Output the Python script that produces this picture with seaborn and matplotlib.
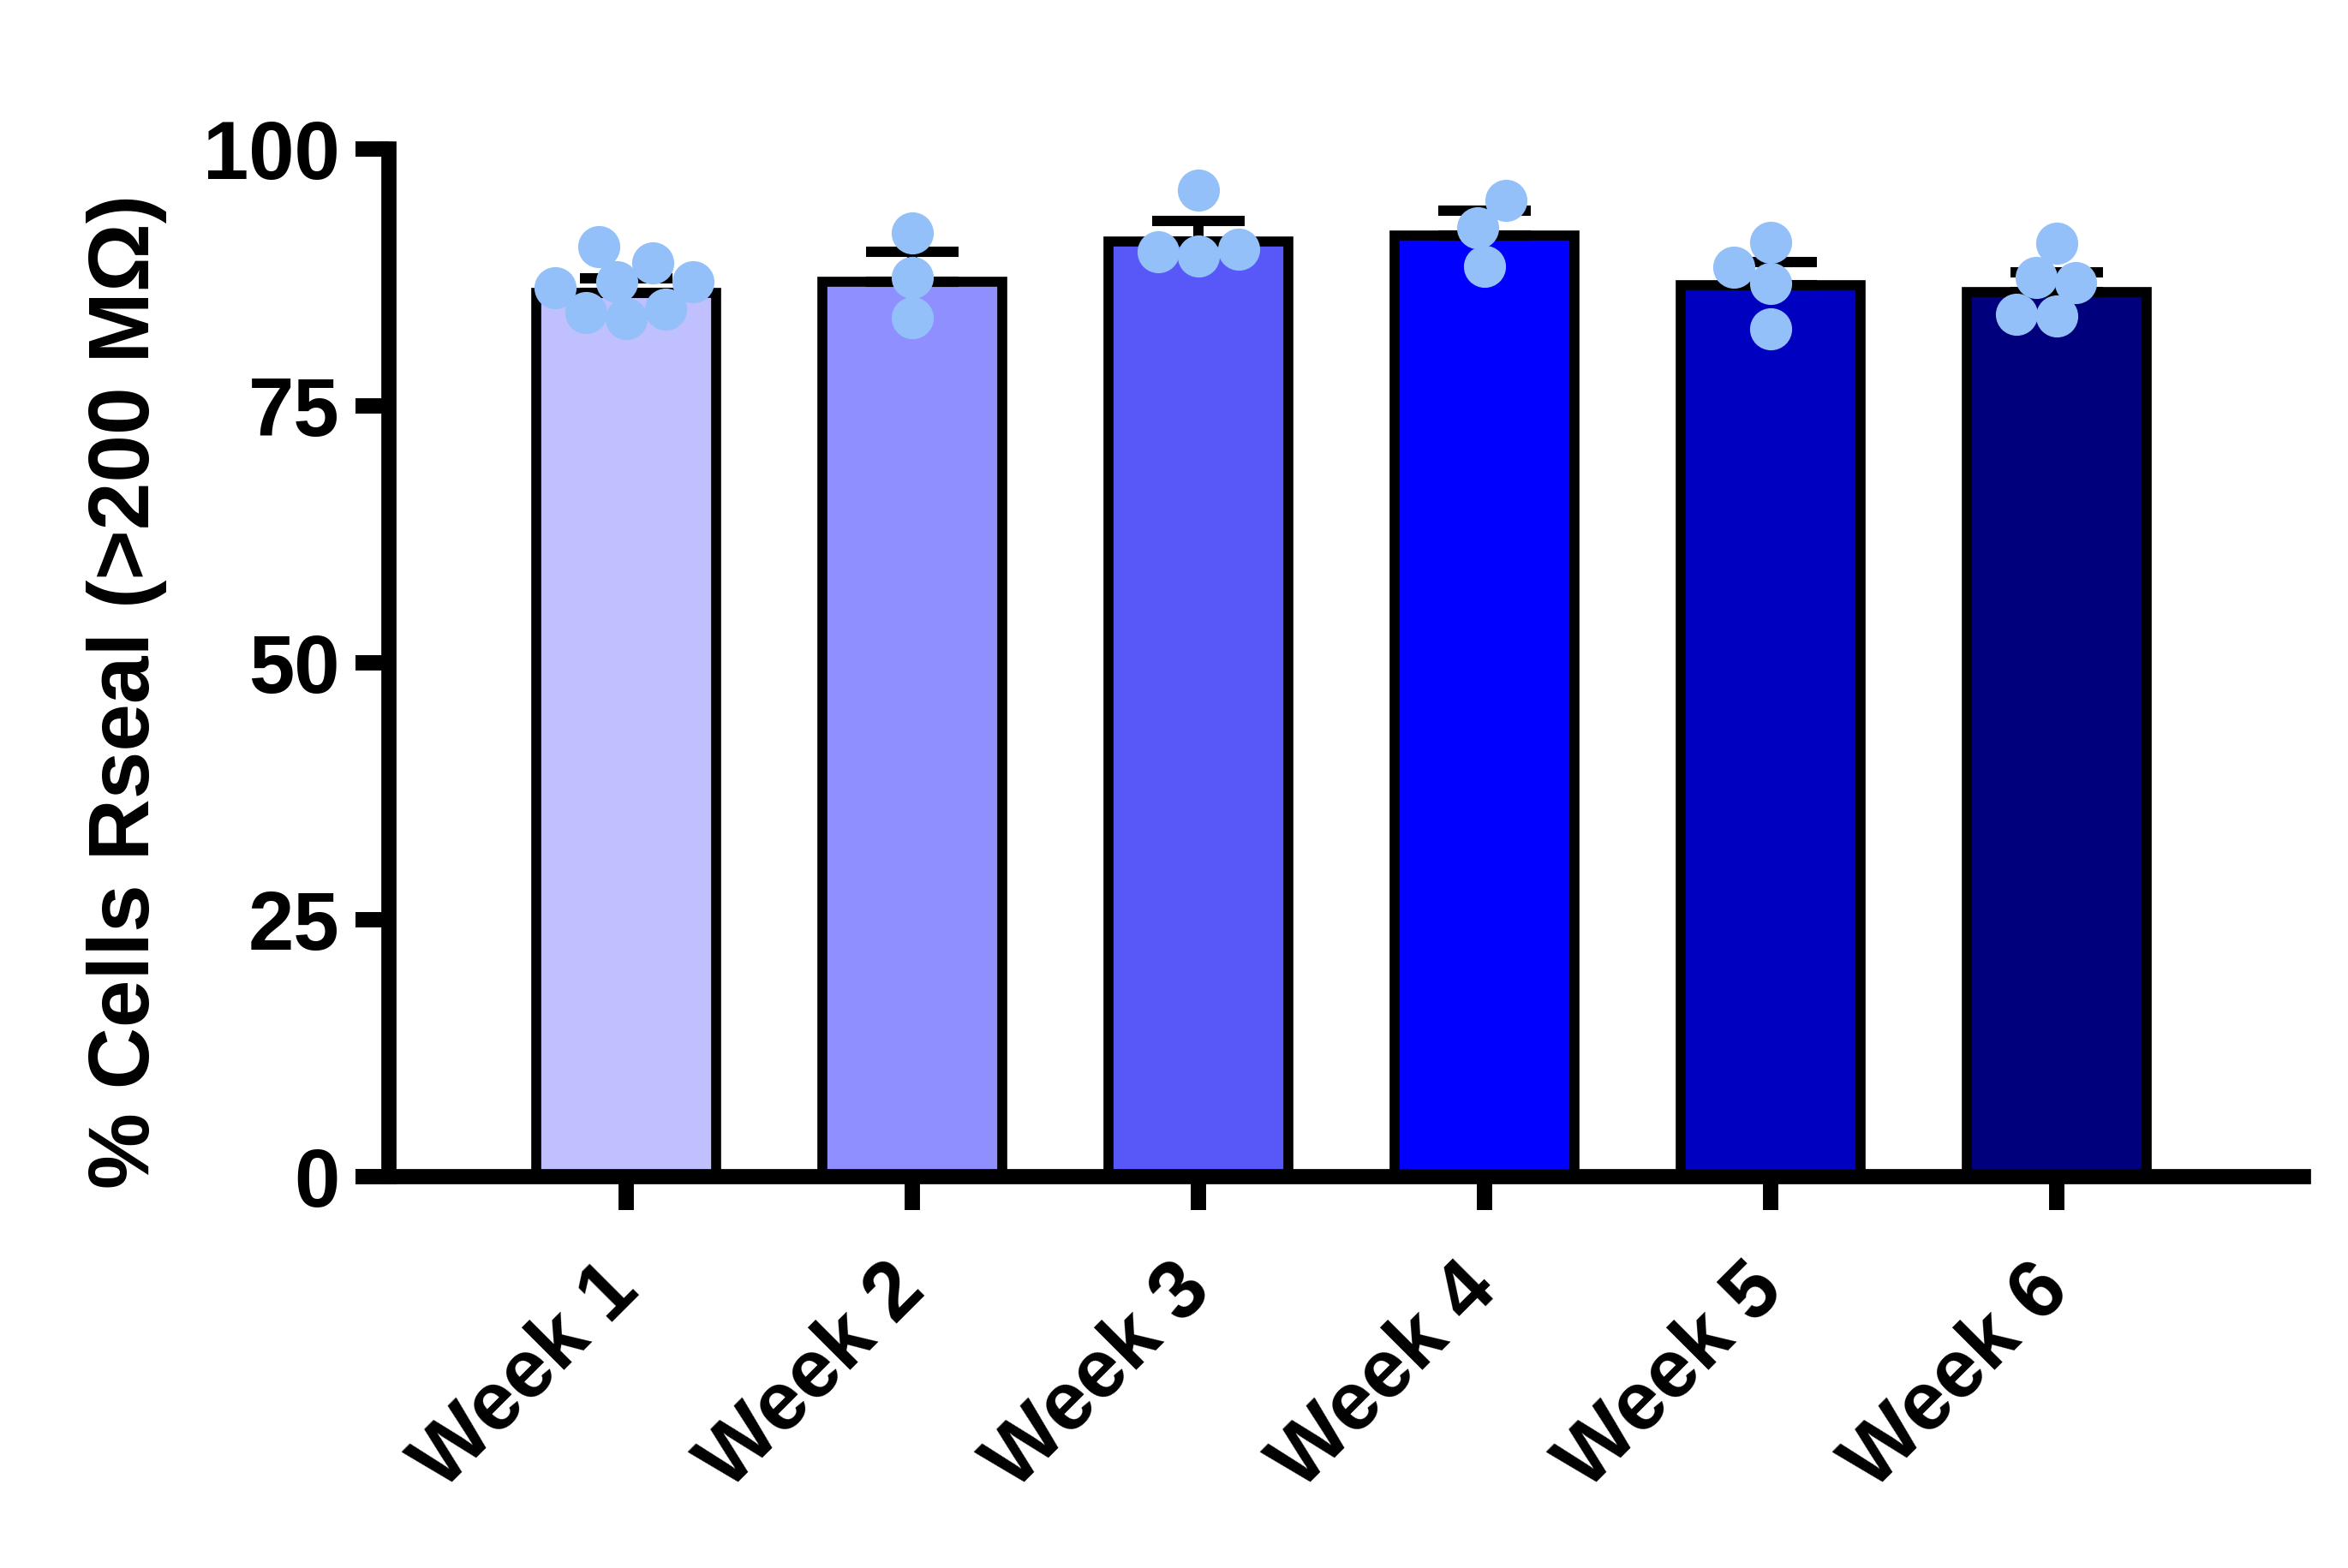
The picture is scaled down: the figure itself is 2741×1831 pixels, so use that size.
import numpy as np
import pandas as pd
import matplotlib
matplotlib.use("Agg")
import matplotlib.pyplot as plt
import seaborn as sns

# ---------------- data ----------------
weeks = ["Week 1", "Week 2", "Week 3", "Week 4", "Week 5", "Week 6"]
means = [86.0, 87.1, 91.0, 91.6, 86.7, 86.1]
sems = [1.4, 2.9, 1.95, 2.35, 2.3, 1.85]
week1_pts = [90.45, 88.9, 87.1, 87.1, 86.5, 84.1, 84.4, 83.45]
week2_pts = [91.8, 87.5, 83.6]
week3_pts = [95.95, 89.6, 90.2, 89.95]
week4_pts = [95.0, 92.3, 88.6]
week5_pts = [90.9, 88.5, 86.9, 82.5]
week6_pts = [90.8, 87.45, 87.0, 83.7, 83.9]
bar_colors = ["#C0C0FF", "#8F8FFF", "#5858F8", "#0000FF", "#0000C0", "#00007C"]
point_color = "#93C0F8"
y_ticks = [0, 25, 50, 75, 100]
y_label = "% Cells Rseal (>200 MΩ)"

all_pts = [week1_pts, week2_pts, week3_pts, week4_pts, week5_pts, week6_pts]
pts_df = pd.DataFrame({
    "week": [w for w, p in zip(weeks, all_pts) for _ in p],
    "value": [v for p in all_pts for v in p],
})
bar_df = pd.DataFrame({"week": weeks, "mean": means, "sem": sems})

# ---------------- style ----------------
sns.set_style("ticks")
plt.rcParams["font.family"] = ["Liberation Sans", "DejaVu Sans"]
plt.rcParams["font.weight"] = "bold"

W, H, DPI = 2741, 1831, 300
fig = plt.figure(figsize=(W / DPI, H / DPI), dpi=DPI)
ax = fig.add_axes([454 / W, 1 - 1374 / H, (2689 - 454) / W, (1374 - 173.7) / H])

XLIM = (-0.829, 5.862)
YLIM = (0, 100)

sns.barplot(data=bar_df, x="week", y="mean", hue="week", order=weeks,
            palette=bar_colors, saturation=1, legend=False, errorbar=None,
            width=0.629, edgecolor="black", linewidth=2.8, ax=ax, zorder=2)

xpos = np.arange(len(weeks))
ax.errorbar(xpos, bar_df["mean"], yerr=[np.zeros(len(weeks)), bar_df["sem"]],
            fmt="none", ecolor="black", elinewidth=2.9, capsize=13, capthick=2.9,
            zorder=3)

ax.set_xlim(*XLIM)
ax.set_ylim(*YLIM)
ax.set_yticks(y_ticks)

layout_size = 10.8
sns.swarmplot(data=pts_df, x="week", y="value", order=weeks, color=point_color,
              size=layout_size, linewidth=0, ax=ax, zorder=5)
ax.set_xlim(*XLIM)
ax.set_ylim(*YLIM)

# let seaborn compute the swarm layout, then freeze it and enlarge the markers
fig.canvas.draw()
for coll in ax.collections:
    if "draw" in coll.__dict__:
        del coll.__dict__["draw"]
        coll.set_sizes([11.8 ** 2])

sns.despine(ax=ax)
for side in ["left", "bottom"]:
    ax.spines[side].set_linewidth(4.25)
    ax.spines[side].set_color("black")
    ax.spines[side].set_capstyle("projecting")

ax.tick_params(axis="both", width=4.3, length=9.4, color="black",
               labelsize=23, labelcolor="black")
ax.tick_params(axis="y", pad=4.4)
ax.tick_params(axis="x", pad=19)
ax.set_xlabel("")
ax.set_ylabel(y_label, fontsize=24, fontweight="bold", color="black")
ax.yaxis.set_label_coords(-0.116, 0.472)
for lab in ax.get_yticklabels():
    lab.set_fontweight("bold")
plt.setp(ax.get_xticklabels(), rotation=45, ha="right", va="center",
         rotation_mode="anchor", fontweight="bold")

fig.savefig("out.png", dpi=DPI)
